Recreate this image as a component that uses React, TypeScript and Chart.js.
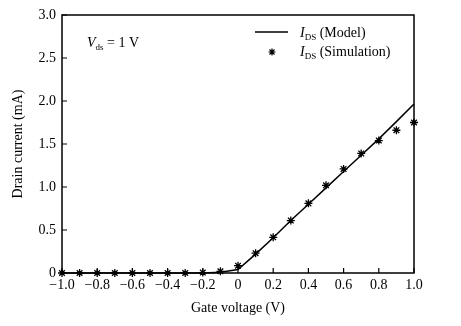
import React, { useEffect, useRef } from 'react';
import { Chart, registerables } from 'chart.js';

Chart.register(...registerables);

const gateVoltage = [-1.0, -0.9, -0.8, -0.7, -0.6, -0.5, -0.4, -0.3, -0.2, -0.1, 0.0, 0.1, 0.2, 0.3, 0.4, 0.5, 0.6, 0.7, 0.8, 0.9, 1.0];
const modelCurrent = [0, 0, 0, 0, 0, 0, 0, 0, 0, 0.01, 0.04, 0.22, 0.41, 0.61, 0.8, 0.99, 1.18, 1.37, 1.56, 1.76, 1.965];
const simCurrent = [0, 0, 0, 0, 0, 0, 0, 0, 0.005, 0.02, 0.085, 0.23, 0.415, 0.61, 0.81, 1.02, 1.21, 1.39, 1.54, 1.66, 1.75];
const xTickValues = [-1.0, -0.8, -0.6, -0.4, -0.2, 0, 0.2, 0.4, 0.6, 0.8, 1.0];
const yTickValues = [0, 0.5, 1.0, 1.5, 2.0, 2.5, 3.0];

const FONT = '"Liberation Serif", "Times New Roman", serif';

const framePlugin = {
  id: 'frameAndLabels',
  afterDraw(chart: any) {
    const { ctx, chartArea } = chart;
    const { left, right, top, bottom } = chartArea;
    const xs = chart.scales.x;
    const ys = chart.scales.y;
    ctx.save();
    ctx.strokeStyle = '#000';
    ctx.lineWidth = 1.5;
    ctx.beginPath();
    ctx.rect(left, top, right - left, bottom - top);
    ctx.stroke();
    ctx.lineWidth = 1.2;
    ctx.beginPath();
    xTickValues.forEach((v) => {
      const px = xs.getPixelForValue(v);
      ctx.moveTo(px, bottom);
      ctx.lineTo(px, bottom - 5);
    });
    yTickValues.forEach((v) => {
      const py = ys.getPixelForValue(v);
      ctx.moveTo(left, py);
      ctx.lineTo(left + 5, py);
    });
    ctx.stroke();

    ctx.fillStyle = '#000';
    ctx.textBaseline = 'alphabetic';
    const drawRich = (x: number, y: number, main: string, sub: string, rest: string) => {
      ctx.font = `italic 14px ${FONT}`;
      ctx.fillText(main, x, y);
      let cx = x + ctx.measureText(main).width;
      ctx.font = `9px ${FONT}`;
      ctx.fillText(sub, cx, y + 3);
      cx += ctx.measureText(sub).width;
      ctx.font = `14px ${FONT}`;
      ctx.fillText(rest, cx, y);
    };

    // annotation
    drawRich(left + 25, top + 32, 'V', 'ds', ' = 1 V');

    // legend
    ctx.lineWidth = 1.5;
    ctx.beginPath();
    ctx.moveTo(255, top + 17);
    ctx.lineTo(288, top + 17);
    ctx.stroke();
    drawRich(300, top + 22, 'I', 'DS', ' (Model)');
    drawRich(300, top + 41, 'I', 'DS', ' (Simulation)');
    // star sample
    ctx.lineWidth = 1.2;
    const r = 3.5;
    const cx = 272, cy = top + 37;
    ctx.beginPath();
    for (let i = 0; i < 4; i++) {
      const a = (Math.PI / 4) * i;
      ctx.moveTo(cx - r * Math.cos(a), cy - r * Math.sin(a));
      ctx.lineTo(cx + r * Math.cos(a), cy + r * Math.sin(a));
    }
    ctx.stroke();
    ctx.restore();
  },
};

const fmt = (v: number) => {
  if (Math.abs(v) < 1e-9) return '0';
  return v.toFixed(1).replace('-', '\u2212');
};

export default function App() {
  const ref = useRef<HTMLCanvasElement | null>(null);
  useEffect(() => {
    if (!ref.current) return;
    const chart = new Chart(ref.current, {
      type: 'line',
      data: {
        datasets: [
          {
            label: 'IDS (Model)',
            data: gateVoltage.map((x, i) => ({ x, y: modelCurrent[i] })),
            borderColor: '#000',
            borderWidth: 1.5,
            pointRadius: 0,
            tension: 0,
            fill: false,
            clip: false,
          },
          {
            label: 'IDS (Simulation)',
            data: gateVoltage.map((x, i) => ({ x, y: simCurrent[i] })),
            showLine: false,
            borderColor: '#000',
            backgroundColor: '#000',
            pointStyle: 'star',
            pointRadius: 4,
            pointBorderWidth: 1.3,
            clip: false,
          },
        ],
      },
      options: {
        animation: false,
        responsive: false,
        devicePixelRatio: 1,
        layout: { padding: { top: 15, right: 47, left: 0, bottom: 0 } },
        plugins: { legend: { display: false }, tooltip: { enabled: false } },
        scales: {
          x: {
            type: 'linear',
            min: -1,
            max: 1,
            afterFit: (s: any) => { s.height = 53; },
            afterBuildTicks: (s: any) => { s.ticks = xTickValues.map((v) => ({ value: v })); },
            grid: { display: false, drawTicks: false },
            border: { display: false },
            ticks: { callback: (v: any) => fmt(Number(v)), color: '#000', font: { family: FONT, size: 14 }, padding: 4, maxRotation: 0, autoSkip: false },
            title: { display: true, text: 'Gate voltage (V)', color: '#000', font: { family: FONT, size: 14 }, padding: { top: 0, bottom: 9 } },
          },
          y: {
            type: 'linear',
            min: 0,
            max: 3,
            afterFit: (s: any) => { s.width = 62; },
            afterBuildTicks: (s: any) => { s.ticks = yTickValues.map((v) => ({ value: v })); },
            grid: { display: false, drawTicks: false },
            border: { display: false },
            ticks: { callback: (v: any) => fmt(Number(v)), color: '#000', font: { family: FONT, size: 14 }, padding: 6, autoSkip: false },
            title: { display: true, text: 'Drain current (mA)', color: '#000', font: { family: FONT, size: 14 }, padding: { top: 10, bottom: 0 } },
          },
        },
      },
      plugins: [framePlugin],
    } as any);
    return () => chart.destroy();
  }, []);
  return (
    <div style={{ position: 'fixed', left: 0, top: 0, width: 461, height: 326, background: '#fff' }}>
      <canvas ref={ref} width={461} height={326} />
    </div>
  );
}
